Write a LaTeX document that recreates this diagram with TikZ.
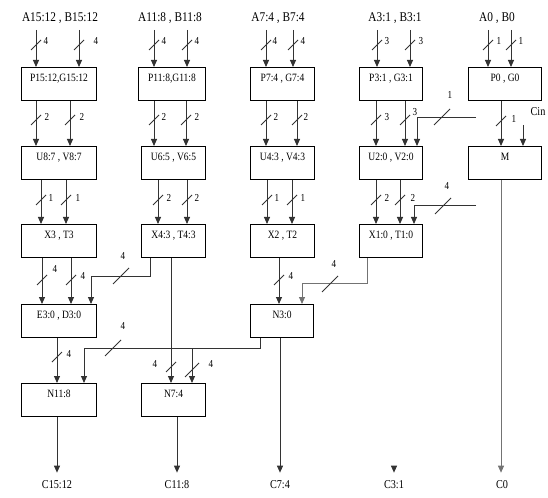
\documentclass[tikz,border=0pt]{standalone}
\usepackage{fontspec}
\setmainfont{Liberation Serif}[FakeStretch=0.85]
\usetikzlibrary{arrows.meta}
\newcommand\vconn[3]{\draw[arr] (#1,0 |- #2.south) -- (#1,0 |- #3.north);}
\newcommand\inarr[2]{\coordinate (in#1) at (#1,30); \draw[arr] (in#1) -- (in#1 |- #2.north);}
\begin{document}
\begin{tikzpicture}[x=0.75pt,y=-0.75pt,
 conn/.style={line width=0.7pt, draw=black!80},
 arr/.style={conn, -{Triangle[length=5.25pt,width=4.5pt]}},
 light/.style={draw=black!55},
 box/.style={draw, line width=0.8pt, anchor=north west, minimum height=24.75pt, inner ysep=5.5pt, inner xsep=1pt, text height=5pt, text depth=8.75pt, font=\fontsize{8.4}{9}\selectfont},
 toplbl/.style={font=\fontsize{10}{12}\selectfont, inner sep=0pt},
 outlbl/.style={font=\fontsize{9}{11}\selectfont, inner sep=0pt},
 buslbl/.style={font=\fontsize{8}{9}\selectfont, inner sep=0pt},
 pics/bus/.style args={#1/#2/#3}{code={\draw[conn] (-#3,#3) -- (#3,-#3); \node[buslbl] at (#2) {#1};}}
]
\useasboundingbox (0,0) rectangle (548,498);

% top labels
\node[toplbl] (tl1) at (60,18) {A15:12 , B15:12};
\node[toplbl] (tl2) at (170,18) {A11:8 , B11:8};
\node[toplbl] (tl3) at (278,18) {A7:4 , B7:4};
\node[toplbl] (tl4) at (395,18) {A3:1 , B3:1};
\node[toplbl] (tl5) at (497,18) {A0 , B0};

% row 1
\node[box, minimum width=56.25pt] (P15) at (21,67) {P15:12,G15:12};
\node[box, minimum width=50.25pt] (P11) at (138,67) {P11:8,G11:8};
\node[box, minimum width=48pt] (P7) at (250,67) {P7:4 , G7:4};
\node[box, minimum width=47.25pt] (P3) at (359,67) {P3:1 , G3:1};
\node[box, minimum width=54.75pt] (P0) at (468,67) {P0 , G0};
% row 2
\node[box, minimum width=56.25pt] (U87) at (21,146) {U8:7 , V8:7};
\node[box, minimum width=48pt] (U65) at (141,146) {U6:5 , V6:5};
\node[box, minimum width=48pt] (U43) at (250,146) {U4:3 , V4:3};
\node[box, minimum width=47.25pt] (U20) at (359,146) {U2:0 , V2:0};
\node[box, minimum width=54.75pt] (M) at (468,146) {M};
% row 3
\node[box, minimum width=56.25pt] (X3) at (21,224) {X3 , T3};
\node[box, minimum width=48pt] (X43) at (141,224) {X4:3 , T4:3};
\node[box, minimum width=48pt] (X2) at (250,224) {X2 , T2};
\node[box, minimum width=47.25pt] (X10) at (359,224) {X1:0 , T1:0};
% row 4
\node[box, minimum width=56.25pt] (E) at (21,304) {E3:0 , D3:0};
\node[box, minimum width=47.25pt] (N30) at (250,304) {N3:0};
% row 5
\node[box, minimum width=56.25pt] (N118) at (21,383) {N11:8};
\node[box, minimum width=48pt] (N74) at (141,383) {N7:4};

% bottom labels
\node[outlbl] (C1512) at (57,485) {C15:12};
\node[outlbl] (C118) at (177,485) {C11:8};
\node[outlbl] (C74) at (280,485) {C7:4};
\node[outlbl] (C31) at (394,485) {C3:1};
\node[outlbl] (C0) at (502,485) {C0};
\node[outlbl] (cin) at (538,112) {Cin};

% inputs
\inarr{36}{P15} \inarr{79}{P15}
\inarr{154}{P11} \inarr{187}{P11}
\inarr{266}{P7} \inarr{293}{P7}
\inarr{377}{P3} \inarr{410}{P3}
\inarr{488}{P0} \inarr{511}{P0}
\pic at (36,45) {bus={4/{10,-4}/5}};
\pic at (79,45) {bus={4/{17,-4}/5}};
\pic at (154,45) {bus={4/{10,-4}/5}};
\pic at (187,45) {bus={4/{10,-4}/5}};
\pic at (266,45) {bus={4/{9,-4}/5}};
\pic at (293,45) {bus={4/{10,-4}/5}};
\pic at (377,45) {bus={3/{10,-4}/5}};
\pic at (410,45) {bus={3/{11,-4}/5}};
\pic at (488,45) {bus={1/{11,-4}/5}};
\pic at (511,45) {bus={1/{10,-4}/5}};

% row1 -> row2
\vconn{36}{P15}{U87} \vconn{70}{P15}{U87}
\vconn{154}{P11}{U65} \vconn{186}{P11}{U65}
\vconn{266}{P7}{U43} \vconn{297}{P7}{U43}
\vconn{376}{P3}{U20} \vconn{405}{P3}{U20}
\vconn{501}{P0}{M}
\pic at (36,120) {bus={2/{11,-3}/5}};
\pic at (70,120) {bus={2/{12,-3}/5}};
\pic at (154,120) {bus={2/{10,-3}/5}};
\pic at (186,120) {bus={2/{11,-3}/5}};
\pic at (266,120) {bus={2/{10,-3}/5}};
\pic at (297,120) {bus={2/{9,-3}/5}};
\pic at (376,120) {bus={3/{11,-3}/5}};
\pic at (405,120) {bus={3/{10,-8}/5}};
\pic at (501,121) {bus={1/{13,-2}/5}};
% Cin
\coordinate (cinS) at (523,125);
\draw[arr] (cinS) -- (cinS |- M.north);
\coordinate (c1a) at (476,117);
\draw[arr] (c1a) -| (417,0 |- U20.north);
\pic at (442,117) {bus={1/{8,-22}/8}};

% row2 -> row3
\vconn{41}{U87}{X3} \vconn{66}{U87}{X3}
\vconn{158}{U65}{X43} \vconn{187}{U65}{X43}
\vconn{267}{U43}{X2} \vconn{292}{U43}{X2}
\vconn{376}{U20}{X10} \vconn{400}{U20}{X10}
\pic at (41,200) {bus={1/{10,-2}/5}};
\pic at (66,200) {bus={1/{12,-2}/5}};
\pic at (158,200) {bus={2/{11,-2}/5}};
\pic at (187,200) {bus={2/{10,-2}/5}};
\pic at (267,200) {bus={1/{10,-2}/5}};
\pic at (292,200) {bus={1/{11,-2}/5}};
\pic at (376,200) {bus={2/{11,-2}/5}};
\pic at (400,200) {bus={2/{13,-2}/5}};
\coordinate (c4a) at (476,205);
\draw[arr] (c4a) -| (414,0 |- X10.north);
\pic at (443,206) {bus={4/{4,-20}/8}};

% row3 -> row4
\vconn{42}{X3}{E} \vconn{71}{X3}{E}
\pic at (42,280) {bus={4/{13,-11}/5}};
\pic at (71,280) {bus={4/{12,-4}/5}};
\draw[arr] (150,0 |- X43.south) -- (150,276) -| (91,0 |- E.north);
\pic at (121,276) {bus={4/{2,-20}/8}};
\vconn{279}{X2}{N30}
\pic at (279,280) {bus={4/{12,-4}/5}};
\draw[arr, light] (367,0 |- X10.south) -- (367,283) -| (302,0 |- N30.north);
\pic at (330,284) {bus={4/{4,-20}/8}};

% row4 -> row5
\vconn{57}{E}{N118}
\pic at (57,357) {bus={4/{12,-3}/5}};
\draw[arr] (260,0 |- N30.south) -- (260,348) -| (84,0 |- N118.north);
\pic at (113,348) {bus={4/{10,-22}/8}};
\coordinate (br) at (192,348);
\draw[arr] (br) -- (br |- N74.north);
\draw[arr] (171,0 |- X43.south) -- (171,0 |- N74.north);
\pic at (171,367) {bus={4/{-16,-3}/5}};
\pic at (192,370) {bus={4/{19,-6}/7}};

% outputs
\draw[arr, shorten >=6pt] (57,0 |- N118.south) -- (57,0 |- C1512.north);
\draw[arr, shorten >=6pt] (177,0 |- N74.south) -- (177,0 |- C118.north);
\draw[arr, shorten >=6pt] (280,0 |- N30.south) -- (280,0 |- C74.north);
\coordinate (c31s) at (394,466);
\draw[arr, shorten >=6pt] (c31s) -- (c31s |- C31.north);
\draw[arr, light, shorten >=6pt] (501,0 |- M.south) -- (501,0 |- C0.north);
\end{tikzpicture}
\end{document}
